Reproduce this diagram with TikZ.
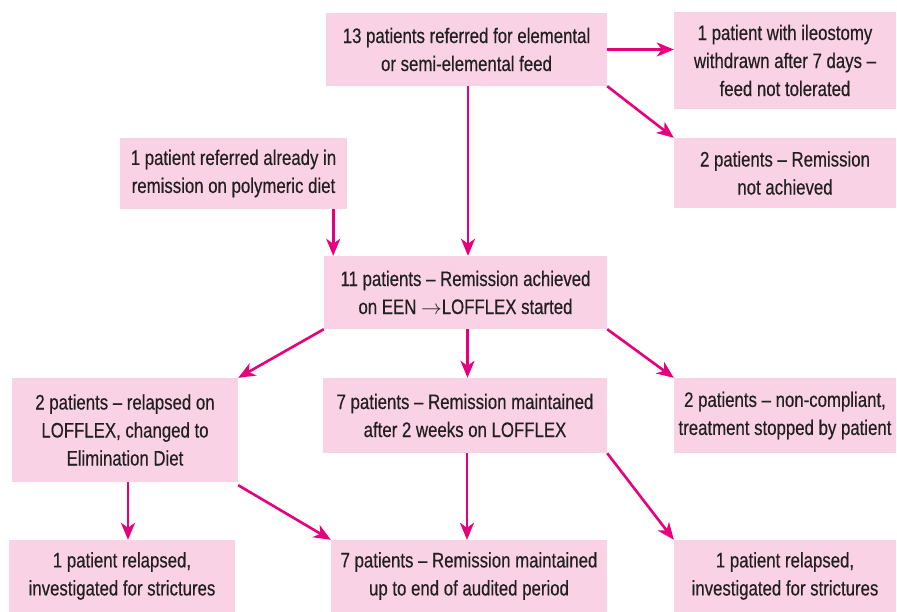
\documentclass[tikz,border=0pt]{standalone}
\usepackage{fontspec}
\setmainfont{Liberation Sans}[FakeStretch=0.8,FakeBold=0.4]
\usetikzlibrary{arrows.meta}
\definecolor{boxpink}{HTML}{F9D3E5}
\definecolor{arrowmag}{HTML}{E6007E}
\definecolor{textgrey}{HTML}{231F20}
\begin{document}
\begin{tikzpicture}[x=1pt,y=-1pt,
  box/.style={fill=boxpink, draw=none, align=center, inner sep=0pt,
    font=\fontsize{21}{28}\selectfont, text=textgrey},
  conn/.style={draw=arrowmag, line width=2.6pt,
    -{Stealth[length=17pt,width=14pt,inset=5pt]}}]
\useasboundingbox (0,0) rectangle (897,612);
\node[box, minimum width=281pt, minimum height=73pt] (A) at (466.5,49.5)
  {13 patients referred for elemental\\or semi-elemental feed};
\node[box, minimum width=222pt, minimum height=97pt] (B) at (785,60.5)
  {1 patient with ileostomy\\withdrawn after 7 days --\\feed not tolerated};
\node[box, minimum width=222pt, minimum height=70pt] (C) at (785,173)
  {2 patients -- Remission\\not achieved};
\node[box, minimum width=227pt, minimum height=71pt] (D) at (233.5,173.5)
  {1 patient referred already in\\remission on polymeric diet};
\node[box, minimum width=283pt, minimum height=73pt] (E) at (465.5,292.5)
  {11 patients -- Remission achieved\\on EEN $\rightarrow$LOFFLEX started};
\node[box, minimum width=226pt, minimum height=104pt] (F) at (125,430)
  {2 patients -- relapsed on\\LOFFLEX, changed to\\Elimination Diet};
\node[box, minimum width=284pt, minimum height=75pt] (G) at (465,415.5)
  {7 patients -- Remission maintained\\after 2 weeks on LOFFLEX};
\node[box, minimum width=222pt, minimum height=75pt] (H) at (785,415.5)
  {2 patients -- non-compliant,\\treatment stopped by patient};
\node[box, minimum width=226pt, minimum height=72pt] (I) at (122,576)
  {1 patient relapsed,\\investigated for strictures};
\node[box, minimum width=276pt, minimum height=72pt] (J) at (469,576)
  {7 patients -- Remission maintained\\up to end of audited period};
\node[box, minimum width=222pt, minimum height=72pt] (K) at (785,576)
  {1 patient relapsed,\\investigated for strictures};
\draw[conn] (A.east) -- (A.east -| B.west);
\draw[conn] (A.south east) -- (C.north west);
\draw[conn] ([xshift=1.5pt]A.south) -- ([xshift=1.5pt]A.south |- E.north);
\draw[conn] ([xshift=-14pt]D.south east) -- ([xshift=-14pt]D.south east |- E.north);
\draw[conn] (E.south west) -- (F.north east);
\draw[conn] ([xshift=2pt]E.south) -- ([xshift=2pt]E.south |- G.north);
\draw[conn] (E.south east) -- (H.north west);
\draw[conn] ([xshift=3pt]F.south) -- ([xshift=3pt]F.south |- I.north);
\draw[conn] ([yshift=-3pt]F.south east) -- (J.north west);
\draw[conn] ([xshift=2pt]G.south) -- ([xshift=2pt]G.south |- J.north);
\draw[conn] (G.south east) -- (K.north west);
\end{tikzpicture}
\end{document}
